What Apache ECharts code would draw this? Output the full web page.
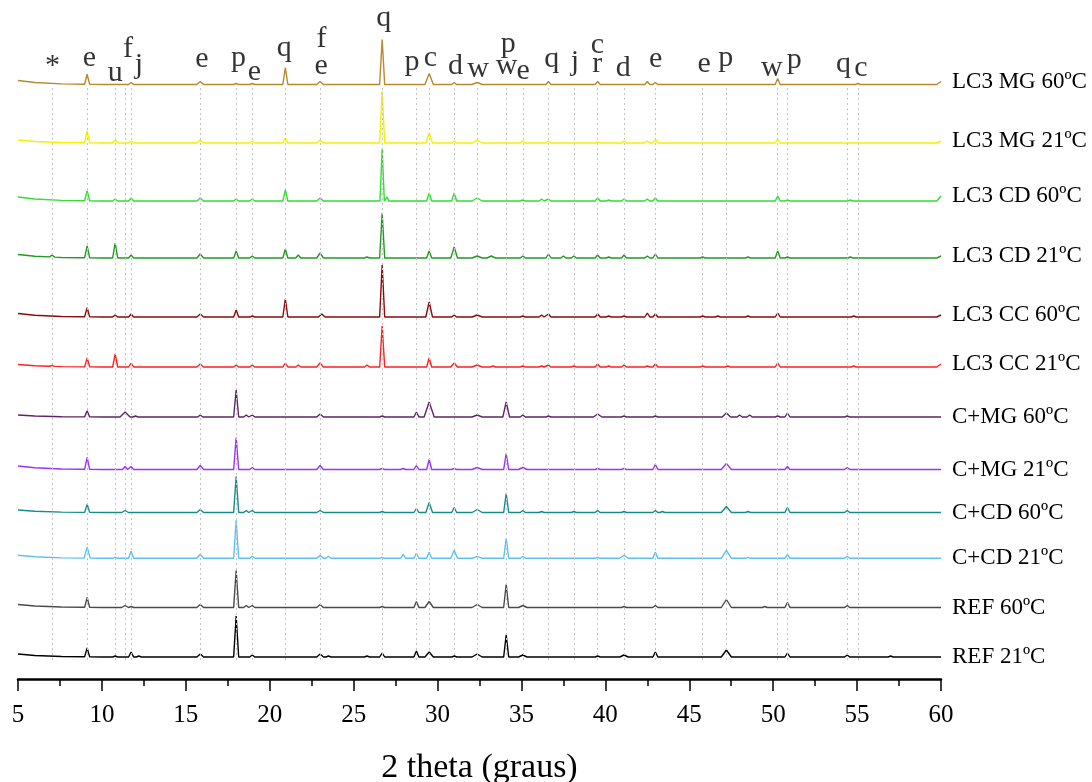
<!DOCTYPE html>
<html><head><meta charset="utf-8">
<script src="https://cdn.jsdelivr.net/npm/echarts@6/dist/echarts.min.js"></script>
<style>html,body{margin:0;padding:0;background:#fff}#c{width:1092px;height:782px}</style>
</head><body><div id="c"></div>
<script>
// ---- categories / series names (bottom to top) ----
const seriesNames = ['REF 21ºC','REF 60ºC','C+CD 21ºC','C+CD 60ºC','C+MG 21ºC','C+MG 60ºC','LC3 CC 21ºC','LC3 CC 60ºC','LC3 CD 21ºC','LC3 CD 60ºC','LC3 MG 21ºC','LC3 MG 60ºC'];
const seriesColors = ['#000000','#4a4a4a','#5cc0f5','#178a8a','#9b30ff','#5e2566','#ff2020','#8b0a0a','#229922','#33dd33','#f2f200','#b8882e'];
// vertical stacking offsets (arbitrary intensity units)
const offsets = [22, 71.5, 120.7, 166.5, 209.5, 262, 312, 362, 421, 478, 536, 594.5];
// background level at 5° and end upturn at 60°
const bgStart = [3, 3, 3, 2.5, 3.5, 2, 2.5, 3.5, 3.5, 4, 3, 4];
const bgEnd   = [0, 0, 0, 0, 0, 0, 3, 2, 2, 5, 2, 3];

// ---- peaks: [2theta, intensity, halfWidth] ----
const peaksREF21 = [[9.12,9],[10.79,1],[11.74,5],[12.2,1],[15.86,3,0.2],[18.0,41],[18.96,2],[23.0,3,0.2],[23.5,1],[25.8,1],[26.7,4],[28.74,6],[29.5,5,0.25],[31.0,1],[32.36,3,0.3],[34.09,22],[35.08,2,0.25],[39.54,1],[41.11,2,0.25],[42.98,5],[47.21,7,0.3],[50.85,4],[54.41,2],[57.0,1]];
const peaksREF60 = [[9.12,10],[11.38,2,0.2],[11.74,1],[15.86,3,0.2],[18.0,37],[18.6,2],[18.96,2],[23.0,3,0.2],[26.7,1],[28.74,6],[29.5,6,0.25],[32.36,3,0.3],[34.09,23],[35.08,2,0.25],[41.11,1],[42.98,2],[47.21,8,0.3],[49.5,1],[50.85,5],[54.41,2]];
const peaksCCD21 = [[9.12,11,0.18],[10.79,1],[11.74,7],[15.86,4,0.2],[18.0,38],[18.96,2],[23.0,3,0.2],[23.5,2],[26.7,1],[27.95,4],[28.74,5],[29.5,6],[30.99,8,0.2],[32.36,2,0.3],[34.09,20],[35.08,2],[39.54,1],[41.11,3,0.25],[42.98,6],[47.21,8,0.3],[48.5,1],[50.85,4],[54.41,2]];
const peaksCCD60 = [[9.12,8],[11.38,2,0.2],[15.86,3,0.2],[18.0,36],[18.6,2],[18.96,2],[23.0,2,0.2],[26.7,1],[28.74,4],[29.5,10,0.2],[30.99,5],[32.36,3,0.3],[34.09,19],[35.08,2],[36.2,1],[38.12,1],[39.54,2],[41.11,1],[42.98,2],[43.4,1],[47.21,6,0.3],[48.5,1],[50.85,5],[54.41,2]];
const peaksCMG21 = [[9.12,12],[11.38,3],[11.74,3],[15.86,4,0.2],[18.0,32],[18.96,2],[23.0,4,0.2],[26.7,1],[27.95,1],[28.74,4],[29.5,10],[30.99,1],[32.36,2,0.3],[34.09,16],[35.08,2,0.25],[39.54,1],[41.11,1],[42.98,5],[47.21,6,0.3],[50.85,3],[54.41,2]];
const peaksCMG60 = [[9.12,6],[11.38,5,0.3],[12.0,1],[15.86,2],[18.0,27],[18.6,2],[18.96,2],[23.0,3,0.2],[26.7,1],[28.74,5],[29.5,15,0.3],[32.36,2,0.3],[34.09,15,0.2],[35.08,2],[36.61,1],[39.54,3,0.25],[41.11,1],[42.98,1],[47.21,4,0.25],[48.0,2],[48.6,2],[50.27,1],[50.85,4],[54.41,1]];
const peaksCC21 = [[7.03,1],[9.12,9],[10.79,13],[11.74,4],[15.86,3,0.2],[18.0,2],[18.96,2],[20.93,4],[21.7,2],[23.0,4,0.2],[25.8,2],[26.7,41],[29.5,9],[30.99,4,0.2],[32.36,2,0.3],[33.3,1],[35.08,1],[36.2,1],[36.61,2],[38.12,1],[39.54,3],[40.2,1],[41.11,2],[42.5,1],[42.98,3],[45.8,1],[47.3,1],[50.27,4],[54.8,1]];
const peaksCC60 = [[9.12,9],[10.79,2],[11.74,3],[15.86,3,0.2],[18.0,7],[18.96,1],[20.93,18],[23.1,3,0.2],[26.7,52],[29.5,15,0.2],[30.99,2],[32.36,2,0.3],[35.08,1],[36.2,2],[36.61,3],[39.54,3],[40.2,1],[41.11,1],[42.5,4],[42.98,3],[45.8,1],[46.7,1],[48.5,1],[50.27,4],[54.8,1]];
const peaksCD21 = [[7.03,2],[9.12,12],[10.79,15],[11.74,3],[15.86,4,0.2],[18.0,7],[18.96,2],[20.93,9],[21.7,3],[23.0,5,0.2],[25.8,1],[26.7,45],[29.5,7],[30.99,11,0.2],[32.36,2,0.3],[33.2,2,0.25],[35.08,2],[36.61,4],[37.5,2],[38.12,2],[39.54,3],[40.2,1],[41.11,3],[42.5,2],[42.98,4],[45.8,1],[48.5,1],[50.27,7],[50.85,1],[54.6,1]];
const peaksCD60 = [[9.12,10],[10.79,2],[11.74,3],[15.86,3,0.2],[18.0,2],[18.96,2],[20.93,11],[23.0,3,0.2],[26.7,52,0.13],[27.0,4,0.1],[29.5,8],[30.99,8],[32.36,3,0.3],[35.08,1],[36.2,2],[36.61,2],[39.54,3],[40.2,1],[41.11,2],[42.5,2],[42.98,3],[50.27,5],[50.85,1],[54.6,1]];
const peaksMG21 = [[9.12,12],[10.79,3],[11.74,2],[15.86,3,0.2],[18.96,2],[20.93,5],[23.0,3,0.2],[26.7,52],[29.5,10,0.2],[30.99,2],[32.36,3,0.3],[35.08,2],[36.61,2],[39.54,1],[41.11,2],[42.5,2],[42.98,4],[50.27,4]];
const peaksMG60 = [[9.12,10],[11.74,2],[15.86,3,0.2],[18.0,1],[18.96,1],[20.93,17],[23.0,3,0.2],[26.7,45],[29.5,11,0.25],[30.99,2],[32.36,2,0.3],[36.61,3],[39.54,3],[42.5,3],[42.98,2],[50.27,6],[55.05,1]];
const allPeaks = [peaksREF21,peaksREF60,peaksCCD21,peaksCCD60,peaksCMG21,peaksCMG60,peaksCC21,peaksCC60,peaksCD21,peaksCD60,peaksMG21,peaksMG60];

// ---- reference lines (phase positions) ----
const phaseLines = [7.03,9.12,10.79,11.38,11.74,15.86,18.0,18.96,20.93,23.01,26.73,28.74,29.50,30.99,32.36,34.09,35.08,36.61,38.12,39.54,41.11,42.98,45.80,47.21,50.27,50.85,54.41,55.05];
// ---- phase letters ----
const letterText = ['*','e','u','f','j','e','p','e','q','f','e','q','p','c','d','w','p','w','e','q','j','c','r','d','e','e','p','w','p','q','c'];
const letterX = [7.05,9.26,10.79,11.55,12.2,15.96,18.14,19.08,20.87,23.08,23.07,26.8,28.48,29.58,31.07,32.42,34.21,34.11,35.1,36.8,38.18,39.52,39.52,41.07,43.0,45.88,47.17,49.92,51.25,54.19,55.23];
const letterY = [613,621,606,630,614,620,621,607,631,640,613,661,617,621,613,610,635,613,608,620,617,634,615,611,620,615,621,611,619,615,611];

const X_MIN = 5, X_MAX = 60, X_STEP = 5;

function buildTrace(i){
  const s = bgStart[i], e = bgEnd[i];
  const bg = [[5,s],[6,s*0.5],[7.6,s*0.15],[10,0],[59.75,0],[60,e]];
  const bgAt = x => {
    for (let k=0;k<bg.length-1;k++){
      const a=bg[k], b=bg[k+1];
      if (x>=a[0] && x<=b[0]) return a[1]+(b[1]-a[1])*(x-a[0])/(b[0]-a[0]);
    }
    return 0;
  };
  const pts = bg.map(p=>[p[0],p[1]]);
  allPeaks[i].forEach(pk=>{
    const p=pk[0], h=pk[1], w=pk[2]||0.15;
    pts.push([p-w,bgAt(p-w)],[p,bgAt(p)+h],[p+w,bgAt(p+w)]);
  });
  pts.sort((a,b)=>a[0]-b[0]);
  return pts.map(p=>[p[0], p[1]+offsets[i]]);
}

const serif = 'Liberation Serif, Times New Roman, serif';
const series = [];
series.push({
  type:'line', data:[], silent:true, z:1,
  markLine:{ silent:true, symbol:'none', animation:false,
    label:{show:false},
    lineStyle:{color:'#c4c4c4', type:[2,3], width:1},
    data: phaseLines.map(x=>[{coord:[x,19]},{coord:[x,594]}]) }
});
seriesNames.forEach((n,i)=>{
  series.push({
    name:n, type:'line', data:buildTrace(i), showSymbol:false, symbol:'none', z:2,
    lineStyle:{color:seriesColors[i], width:1.4}, itemStyle:{color:seriesColors[i]},
    endLabel:{show:true, formatter:'{a}', distance:11, fontFamily:serif, fontSize:23, color:'#000'},
    animation:false
  });
});
series.push({
  type:'scatter', z:3, symbolSize:1, itemStyle:{color:'transparent'}, silent:true,
  data: letterText.map((t,k)=>[letterX[k], letterY[k], t]),
  label:{show:true, position:'inside', formatter:p=>p.value[2], fontFamily:serif, fontSize:30, color:'#000'}
});

const chart = echarts.init(document.getElementById('c'));
chart.setOption({
  animation:false,
  backgroundColor:'#fff',
  grid:{left:18, right:151, top:0, bottom:103, containLabel:false, outerBoundsMode:'none'},
  xAxis:{type:'value', min:X_MIN, max:X_MAX, interval:X_STEP,
    axisLine:{lineStyle:{color:'#000', width:2.5}},
    axisTick:{inside:false, length:12, lineStyle:{color:'#000', width:1.5}},
    minorTick:{show:true, splitNumber:2, length:7, lineStyle:{color:'#000', width:1.5}},
    axisLabel:{fontFamily:serif, fontSize:25, color:'#000', margin:24},
    splitLine:{show:false},
    name:'2 theta (graus)', nameLocation:'middle', nameGap:72,
    nameTextStyle:{fontFamily:serif, fontSize:34, color:'#000'}},
  yAxis:{type:'value', min:0, max:679, show:false},
  series
});
</script></body></html>
